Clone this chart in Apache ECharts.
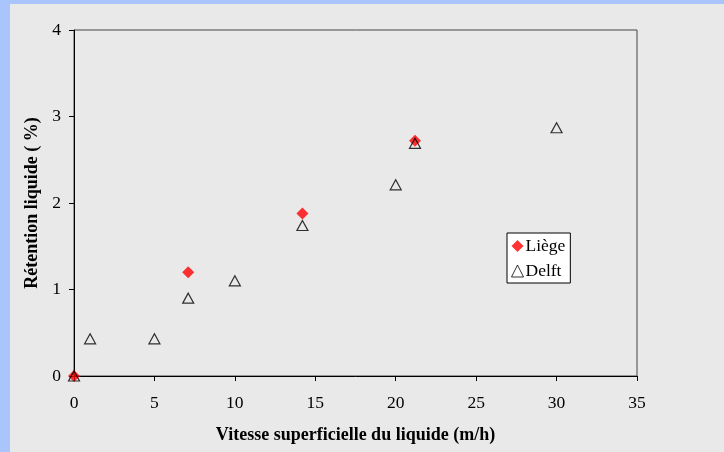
<!DOCTYPE html>
<html>
<head>
<meta charset="utf-8">
<script src="https://cdn.jsdelivr.net/npm/echarts@6/dist/echarts.min.js"></script>
<style>
  html, body { margin: 0; padding: 0; background: #a9c5fb; }
  #chart { position: absolute; left: 10px; top: 4px; width: 714px; height: 448px; background: #e9e9e9; }
</style>
</head>
<body>
<div id="chart"></div>
<script>
// vitesse (m/h) / rétention (%)
var liegeX = [0, 7.1, 14.2, 21.2]
var liegeY = [0, 1.2, 1.88, 2.72]
var delftX = [0, 1, 5, 7.1, 10, 14.2, 20, 21.2, 30]
var delftY = [0, 0.43, 0.43, 0.9, 1.1, 1.74, 2.21, 2.69, 2.87]

var serif = '"Liberation Serif", "Times New Roman", serif'

function pairs(xs, ys) {
  return xs.map(function(x, i) { return [x, ys[i]] })
}

var chart = echarts.init(document.getElementById('chart'))
chart.setOption({
  animation: false,
  backgroundColor: '#e9e9e9',
  textStyle: { fontFamily: serif },
  grid: {
    left: 64,
    top: 26,
    right: 87,
    bottom: 76,
    show: true,
    borderColor: '#444',
    borderWidth: 1,
    backgroundColor: 'transparent'
  },
  legend: {
    orient: 'vertical',
    left: 497,
    top: 229,
    backgroundColor: '#fff',
    borderColor: '#000',
    borderWidth: 1,
    padding: [4, 5, 3, 4],
    itemGap: 7,
    itemWidth: 12,
    itemHeight: 12,
    textStyle: { fontFamily: serif, fontSize: 17.5, color: '#000', padding: [0, 0, 0, -3] },
    data: [
      { name: 'Liège', icon: 'diamond', itemStyle: { color: '#ff0000' } },
      { name: 'Delft', icon: 'triangle', itemStyle: { color: 'transparent', borderColor: '#000', borderWidth: 1 } }
    ]
  },
  xAxis: {
    type: 'value',
    min: 0,
    max: 35,
    interval: 5,
    name: 'Vitesse superficielle du liquide (m/h)',
    nameLocation: 'middle',
    nameGap: 50,
    nameTextStyle: { fontFamily: serif, fontSize: 18, fontWeight: 'bold', color: '#000', verticalAlign: 'top' },
    axisLine: { lineStyle: { color: '#000', width: 1 } },
    axisTick: { show: true, length: 5, lineStyle: { color: '#000' } },
    axisLabel: { margin: 18, fontFamily: serif, fontSize: 17.5, color: '#000' },
    splitLine: { show: false }
  },
  yAxis: {
    type: 'value',
    min: 0,
    max: 4,
    interval: 1,
    name: 'Rétention liquide ( %)',
    nameLocation: 'middle',
    nameGap: 34,
    nameTextStyle: { fontFamily: serif, fontSize: 18, fontWeight: 'bold', color: '#000', verticalAlign: 'middle' },
    axisLine: { show: true, lineStyle: { color: '#000', width: 1 } },
    axisTick: { show: true, length: 5, lineStyle: { color: '#000' } },
    axisLabel: { margin: 13, fontFamily: serif, fontSize: 17.5, color: '#000' },
    splitLine: { show: false }
  },
  series: [{
    name: 'Liège',
    type: 'scatter',
    symbol: 'diamond',
    symbolSize: 12,
    clip: false,
    itemStyle: { color: '#ff0000' },
    data: pairs(liegeX, liegeY)
  }, {
    name: 'Delft',
    type: 'scatter',
    symbol: 'triangle',
    symbolSize: [11, 10],
    clip: false,
    itemStyle: { color: 'transparent', borderColor: '#000', borderWidth: 1.2 },
    data: pairs(delftX, delftY)
  }]
})
</script>
</body>
</html>
